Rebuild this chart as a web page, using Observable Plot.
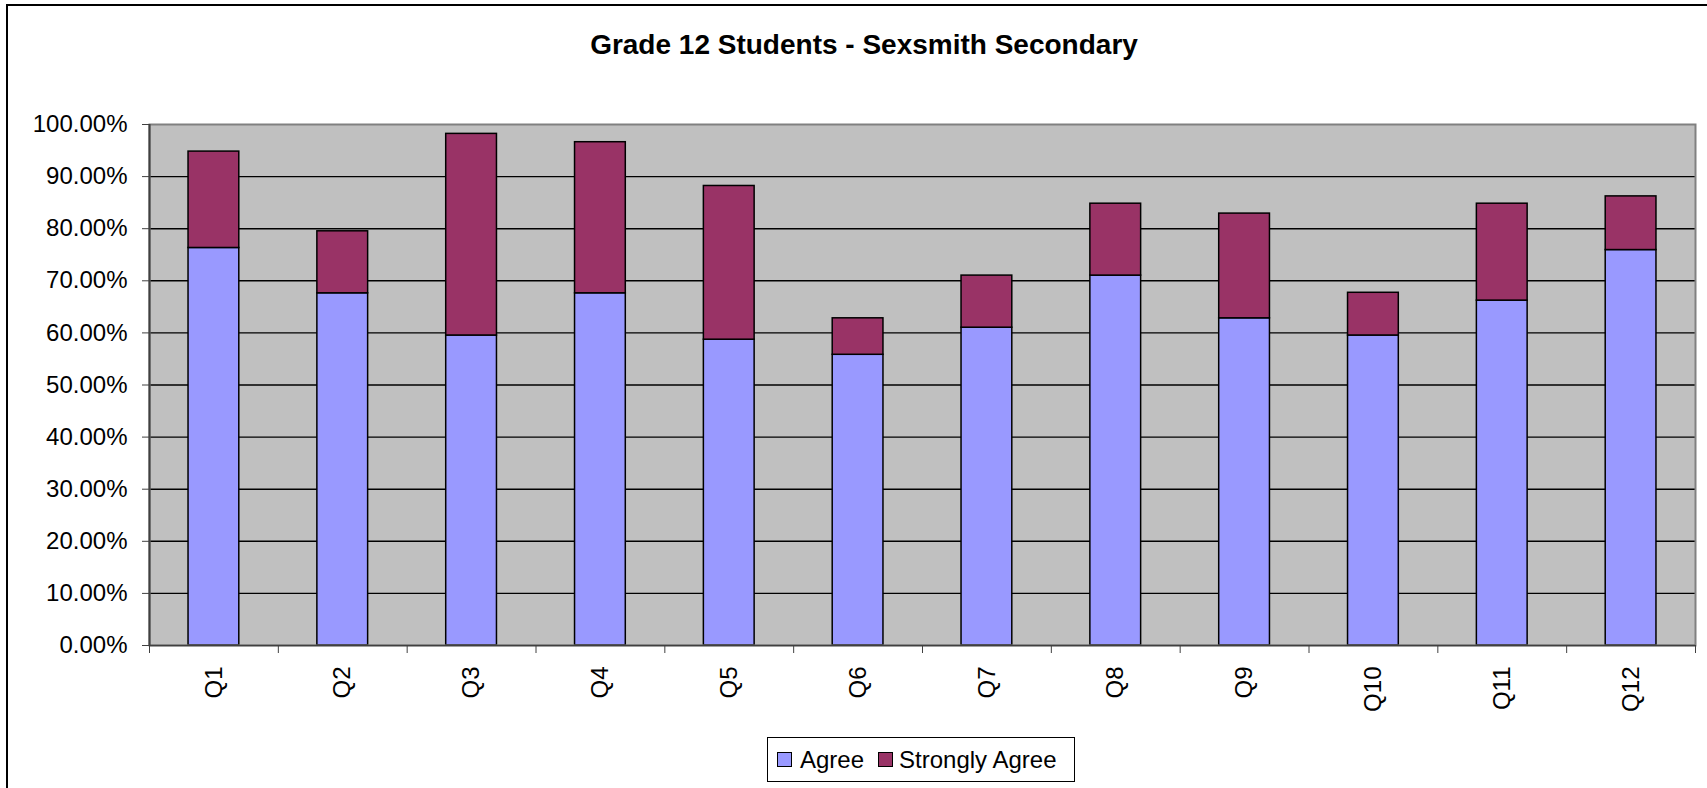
<!DOCTYPE html>
<html>
<head>
<meta charset="utf-8">
<script src="https://cdn.jsdelivr.net/npm/d3@7"></script>
<script src="https://cdn.jsdelivr.net/npm/@observablehq/plot@0.6"></script>
<style>
html, body { margin: 0; padding: 0; background: #fff; width: 1707px; height: 788px; overflow: hidden;
  font-family: "Liberation Sans", Arial, sans-serif; color: #000; }
#frame { position: absolute; left: 6px; top: 4px; width: 1800px; height: 900px; border: 2px solid #000; }
#title { position: absolute; left: 0; width: 1728px; top: 31px; text-align: center; font-weight: bold;
  font-size: 28px; line-height: 28px; }
#chart { position: absolute; left: 0; top: 100px; }
#legend { position: absolute; left: 767px; top: 737px; width: 308px; height: 45px; box-sizing: border-box;
  border: 1.5px solid #000; display: flex; align-items: center; padding-left: 9px; font-size: 24px;
  white-space: nowrap; background: #fff; }
#legend .sw { display: inline-block; width: 15px; height: 15px; box-sizing: border-box; border: 1px solid #000; }
</style>
</head>
<body>
<div id="frame"></div>
<div id="title">Grade 12 Students - Sexsmith Secondary</div>
<div id="chart"></div>
<div id="legend"></div>
<script>
const questions = ["Q1", "Q2", "Q3", "Q4", "Q5", "Q6", "Q7", "Q8", "Q9", "Q10", "Q11", "Q12"];
const agree = [76.3, 67.6, 59.5, 67.6, 58.7, 55.8, 61.0, 71.0, 62.8, 59.5, 66.2, 75.9];
const stronglyAgree = [18.5, 11.9, 38.7, 29.0, 29.5, 7.0, 10.0, 13.8, 20.1, 8.2, 18.6, 10.3];
const seriesNames = ["Agree", "Strongly Agree"];
const seriesColors = ["#9999FF", "#993366"];
const yTicks = [0, 10, 20, 30, 40, 50, 60, 70, 80, 90, 100];

const rows = questions.flatMap((q, i) => [
  {q, i, series: "Agree", y1: 0, y2: agree[i]},
  {q, i, series: "Strongly Agree", y1: agree[i], y2: agree[i] + stronglyAgree[i]}
]);

const font = '"Liberation Sans", Arial, sans-serif';

const chart = Plot.plot({
  width: 1707,
  height: 620,
  marginTop: 24,
  marginLeft: 149,
  marginRight: 12,
  marginBottom: 75,
  style: {fontFamily: font, fontSize: "24px", color: "#000", background: "transparent", overflow: "visible"},
  x: {type: "linear", domain: [0, questions.length], label: null},
  y: {domain: [0, 100], label: null},
  color: {domain: seriesNames, range: seriesColors},
  marks: [
    Plot.frame({fill: "#C0C0C0", stroke: null}),
    Plot.gridY(yTicks.filter(t => t > 0 && t < 100), {stroke: "#000", strokeOpacity: 1, strokeWidth: 1.4}),
    Plot.rectY(rows, {x1: d => d.i + 0.303, x2: d => d.i + 0.697, y1: "y1", y2: "y2", fill: "series",
      stroke: "#000", strokeWidth: 1.5}),
    Plot.frame({stroke: "#808080", strokeWidth: 2}),
    Plot.ruleX([0], {stroke: "#404040", strokeWidth: 2}),
    Plot.ruleY([0], {stroke: "#404040", strokeWidth: 1.5}),
    Plot.axisY(yTicks, {tickSize: 7, tickPadding: 15, tickFormat: d => d.toFixed(2) + "%",
      stroke: "#404040", fontSize: 24, fill: "#000"}),
    Plot.axisX(d3.range(questions.length + 1), {tickSize: 8, tickFormat: () => "", stroke: "#404040"}),
    Plot.axisX(questions.map((q, i) => i + 0.5), {tickSize: 0, tickPadding: 21, tickRotate: -90,
      tickFormat: d => questions[Math.floor(d)], fontSize: 24, fill: "#000"})
  ]
});
document.getElementById("chart").appendChild(chart);

const legend = document.getElementById("legend");
const gaps = [[8, 14], [6, 0]];
seriesNames.forEach((name, k) => {
  const sw = document.createElement("span");
  sw.className = "sw";
  sw.style.background = seriesColors[k];
  sw.style.marginRight = gaps[k][0] + "px";
  const tx = document.createElement("span");
  tx.textContent = name;
  tx.style.marginRight = gaps[k][1] + "px";
  legend.appendChild(sw);
  legend.appendChild(tx);
});
</script>
</body>
</html>
